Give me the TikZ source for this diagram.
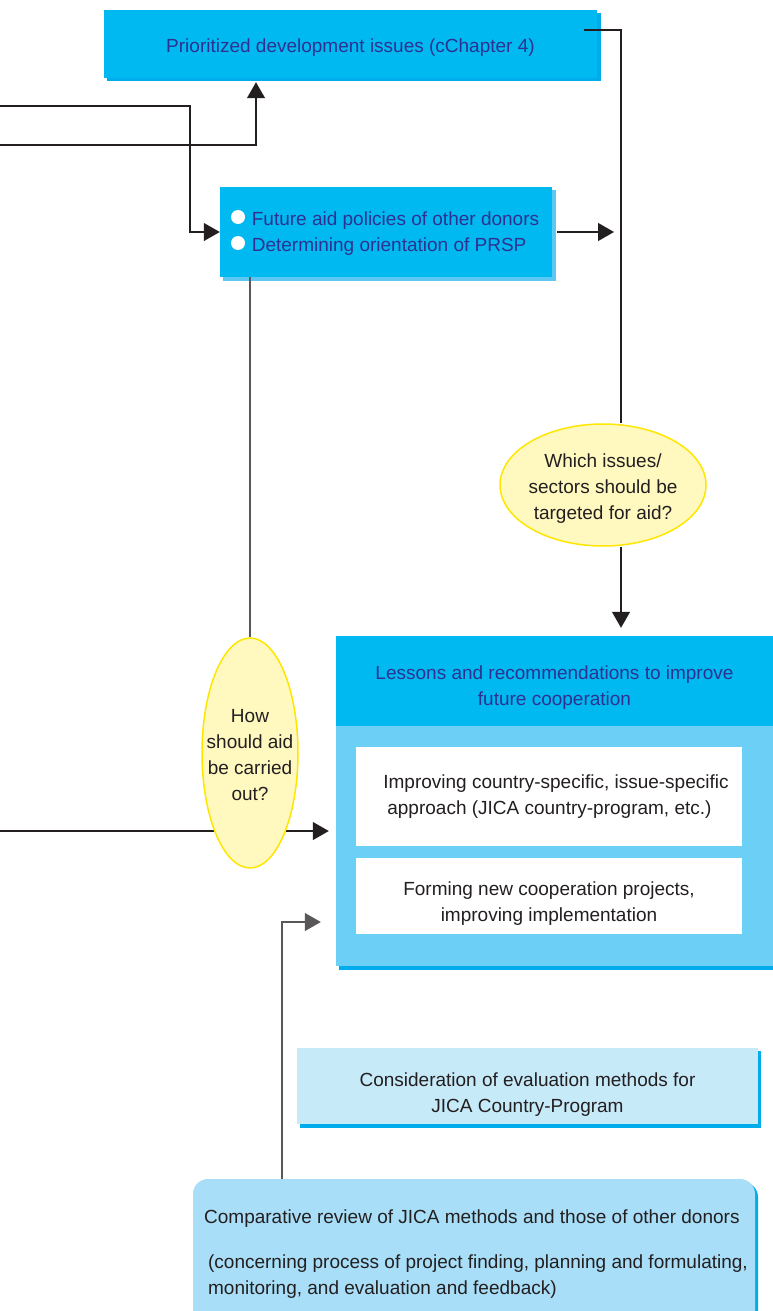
\documentclass[tikz,border=0pt]{standalone}
\usepackage{fontspec}
\setmainfont{Liberation Sans}
\usetikzlibrary{arrows.meta,shapes.geometric,backgrounds}
\definecolor{boxcyan}{RGB}{0,185,240}
\definecolor{shadecyan}{RGB}{0,172,236}
\definecolor{lightcyan}{RGB}{92,200,242}
\definecolor{bodyblue}{RGB}{108,207,246}
\definecolor{paleblue}{RGB}{199,234,249}
\definecolor{reviewblue}{RGB}{168,222,247}
\definecolor{titleblue}{RGB}{46,49,146}
\definecolor{inkgray}{RGB}{35,31,32}
\definecolor{qfill}{RGB}{255,249,192}
\definecolor{qedge}{RGB}{255,230,0}
\newcommand{\topgap}[1]{\rule{0pt}{#1pt}}
\begin{document}
\begin{tikzpicture}[x=1pt,y=-1pt,
    every node/.style={font=\fontsize{19}{26}\selectfont, inner sep=0pt},
    bluebox/.style={fill=boxcyan, text=titleblue, align=center},
    plainbox/.style={text=inkgray, align=center},
    question/.style={ellipse, fill=qfill, draw=qedge, line width=1.5pt, text=inkgray, align=center},
    link/.style={draw=inkgray, line width=1.2pt},
    flow/.style={link, -{Triangle[length=16pt,width=18pt]}}]
    \useasboundingbox (0,0) rectangle (773,1311);

    \fill[shadecyan] (107,13) rectangle (601,81);
    \node[bluebox, minimum width=493, minimum height=68] (prio) at (350.5,44) {\topgap{20}Prioritized development issues (cChapter 4)};

    \fill[lightcyan] (223,190) rectangle (556,281);
    \node[bluebox, align=left, minimum width=332, minimum height=90] (aid) at (386,232) {\topgap{16}\hspace*{19pt}Future aid policies of other donors\\\hspace*{19pt}Determining orientation of PRSP};
    \foreach \y in {217,243} {
        \fill[white] (238,\y) circle (7pt);
    }

    \fill[shadecyan] (339,640) rectangle (777,970);
    \node[fill=bodyblue, minimum width=437, minimum height=330] (lessonsbody) at (554.5,801) {};
    \node[bluebox, minimum width=437, minimum height=90] (lessons) at (554.5,681) {\topgap{26}Lessons and recommendations to improve\\future cooperation};
    \node[plainbox, fill=white, align=left, minimum width=386, minimum height=99] (country) at (549,796.5) {\hspace*{14pt}Improving country-specific, issue-specific\\\hspace*{18pt}approach (JICA country-program, etc.)};
    \node[plainbox, fill=white, minimum width=386, minimum height=76] (projects) at (549,896) {\topgap{28}Forming new cooperation projects,\\improving implementation};

    \node[question, inner xsep=-6pt, minimum width=206, minimum height=122] (which) at (603,485) {\topgap{21}Which issues/\\sectors should be\\targeted for aid?};
    \node[question, inner xsep=-16pt, minimum width=96, minimum height=230] (how) at (250,753) {\topgap{17}How\\should aid\\be carried\\out?};

    \fill[shadecyan] (300,1051) rectangle (761,1128);
    \node[plainbox, fill=paleblue, minimum width=461, minimum height=76] (evalm) at (527.5,1086) {\topgap{30}Consideration of evaluation methods for\\JICA Country-Program};

    \fill[shadecyan, rounded corners=15pt] (196,1182) rectangle (758,1340);
    \node[plainbox, fill=reviewblue, rounded corners=15pt, align=left, minimum width=562, minimum height=150] (review) at (474,1254) {\hspace*{4pt}Comparative review of JICA methods and those of other donors\\[19pt]\hspace*{8pt}(concerning process of project finding, planning and formulating,\\\hspace*{8pt}monitoring, and evaluation and feedback)};

    \coordinate (in1) at (0,106);
    \coordinate (in2) at (0,145);
    \coordinate (in3) at (0,831);
    \coordinate (turn1) at (190,106);
    \coordinate (turn2) at (256,145);
    \coordinate (rail) at (621,30);
    \coordinate (turn3) at (282,922);

    \draw[flow] (in1) -- (turn1) |- (aid.west);
    \draw[flow, shorten >=4pt] (in2) -- (turn2) -- (turn2 |- prio.south);
    \draw[link] (prio.east |- rail) ++(-13,0) -- (rail) -- (rail |- which.north);
    \draw[flow, shorten >=8pt] (rail |- which.south) -- (rail |- lessons.north);
    \draw[flow, shorten <=5pt, shorten >=7pt] (aid.east) -- (rail |- aid.east);
    \draw[link, draw=inkgray!75] (aid.south -| how.north) -- (how.north);
    \draw[flow, draw=inkgray!75, shorten >=15pt] (turn3 |- review.north) -- (turn3) -- (turn3 -| lessonsbody.west);
    \begin{pgfonlayer}{background}
        \draw[flow, shorten >=7pt] (in3) -- (in3 -| lessonsbody.west);
    \end{pgfonlayer}
\end{tikzpicture}
\end{document}
